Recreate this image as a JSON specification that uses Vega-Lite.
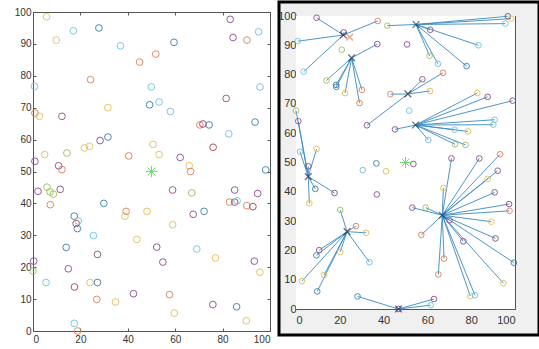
{
  "$schema": "https://vega.github.io/schema/vega-lite/v6.json",
  "padding": 0,
  "autosize": {"type": "pad"},
  "background": "white",
  "spacing": 4,
  "config": {
    "view": {"stroke": null},
    "axis": {
      "grid": false, "title": null,
      "domainColor": "#555555", "tickColor": "#555555", "domainWidth": 1,
      "labelColor": "#333333", "labelFont": "Liberation Sans", "labelFontSize": 10,
      "tickSize": -3, "labelPadding": 4
    }
  },
  "datasets": {
    "left": [
      {"x":5.75,"y":98.5,"c":"y"},{"x":9.8,"y":91.2,"c":"y"},{"x":17,"y":94.1,"c":"c"},{"x":27.8,"y":95,"c":"b"},
      {"x":36.9,"y":89.4,"c":"c"},{"x":45,"y":84.3,"c":"o"},{"x":51.8,"y":86.8,"c":"o"},{"x":59.5,"y":90.5,"c":"b"},
      {"x":83.2,"y":97.7,"c":"p"},{"x":84.4,"y":92,"c":"p"},{"x":90.3,"y":91.2,"c":"o"},{"x":95.2,"y":93.8,"c":"c"},
      {"x":0.6,"y":76.7,"c":"c"},{"x":24.3,"y":78.8,"c":"o"},{"x":49.9,"y":76.5,"c":"c"},{"x":49.2,"y":70.9,"c":"b"},
      {"x":53.2,"y":71.8,"c":"c"},{"x":58,"y":68.8,"c":"c"},{"x":31.6,"y":70,"c":"y"},{"x":0.8,"y":68.3,"c":"o"},
      {"x":2.7,"y":67.3,"c":"y"},{"x":12.2,"y":67.3,"c":"p"},{"x":81.5,"y":72.9,"c":"p"},{"x":95.8,"y":76.5,"c":"c"},
      {"x":93.7,"y":65.5,"c":"b"},{"x":70.4,"y":64.6,"c":"o"},{"x":71.7,"y":64.9,"c":"r"},{"x":74.3,"y":64.6,"c":"b"},
      {"x":82.6,"y":61.8,"c":"c"},{"x":76,"y":57.6,"c":"r"},{"x":31.6,"y":60.8,"c":"b"},{"x":28.3,"y":59.7,"c":"p"},
      {"x":23.8,"y":57.9,"c":"y"},{"x":21.7,"y":57.4,"c":"y"},{"x":14.3,"y":55.8,"c":"g"},{"x":4.9,"y":55.3,"c":"y"},
      {"x":0.8,"y":53.2,"c":"p"},{"x":10.8,"y":51.8,"c":"p"},{"x":12.2,"y":50.6,"c":"o"},{"x":40.4,"y":54.9,"c":"o"},
      {"x":50.6,"y":58.5,"c":"y"},{"x":53.2,"y":55.3,"c":"y"},{"x":62.1,"y":54.4,"c":"p"},{"x":65.9,"y":51.8,"c":"y"},
      {"x":66.5,"y":50,"c":"o"},{"x":98.2,"y":50.5,"c":"b"},{"x":2.1,"y":43.8,"c":"p"},{"x":5.9,"y":45.1,"c":"g"},
      {"x":7.2,"y":43.6,"c":"g"},{"x":8.6,"y":42.9,"c":"g"},{"x":11.5,"y":44.4,"c":"p"},{"x":7.3,"y":39.6,"c":"o"},
      {"x":29.9,"y":40,"c":"b"},{"x":17.4,"y":36,"c":"b"},{"x":18.2,"y":33.7,"c":"r"},{"x":19.1,"y":34.5,"c":"c"},
      {"x":18.7,"y":32.1,"c":"b"},{"x":39.3,"y":37.5,"c":"o"},{"x":38.8,"y":36,"c":"y"},{"x":48.1,"y":37.5,"c":"y"},
      {"x":43.8,"y":28.7,"c":"y"},{"x":25.5,"y":29.9,"c":"c"},{"x":14,"y":26.2,"c":"b"},{"x":27.2,"y":24,"c":"p"},
      {"x":0.3,"y":21.9,"c":"p"},{"x":0,"y":18.8,"c":"g"},{"x":14.9,"y":19.5,"c":"p"},{"x":5.5,"y":15.2,"c":"c"},
      {"x":17.5,"y":13.8,"c":"r"},{"x":24.1,"y":15.2,"c":"y"},{"x":27.2,"y":15.2,"c":"b"},{"x":26.9,"y":9.9,"c":"o"},
      {"x":34.8,"y":9.1,"c":"y"},{"x":42.4,"y":11.7,"c":"p"},{"x":52.2,"y":26.3,"c":"p"},{"x":54.8,"y":21.6,"c":"p"},
      {"x":57.6,"y":11.4,"c":"o"},{"x":59.6,"y":5.6,"c":"y"},{"x":58.9,"y":44.2,"c":"p"},{"x":58.9,"y":33.3,"c":"y"},
      {"x":67,"y":43.3,"c":"g"},{"x":67.6,"y":36.6,"c":"p"},{"x":72.2,"y":37.5,"c":"b"},{"x":69.1,"y":25.7,"c":"c"},
      {"x":77,"y":22.9,"c":"y"},{"x":75.9,"y":8.3,"c":"p"},{"x":85.9,"y":7.6,"c":"b"},{"x":90,"y":3.2,"c":"y"},
      {"x":82.9,"y":40.4,"c":"o"},{"x":85.1,"y":40.4,"c":"p"},{"x":86.1,"y":40.8,"c":"c"},{"x":85.1,"y":44.2,"c":"p"},
      {"x":90.2,"y":39.3,"c":"o"},{"x":92.8,"y":39,"c":"r"},{"x":94.8,"y":43.1,"c":"p"},{"x":93.4,"y":21.9,"c":"p"},
      {"x":95.7,"y":18.4,"c":"y"},{"x":17.4,"y":2.4,"c":"c"},{"x":18.8,"y":0,"c":"o"}
    ],
    "right": [
      {"x":9.4,"y":99.4,"c":"p","cx":21.6,"cy":93.5},{"x":0.8,"y":91.4,"c":"c","cx":21.6,"cy":93.5},
      {"x":3.5,"y":81,"c":"c","cx":21.6,"cy":93.5},{"x":37.3,"y":98.3,"c":"o","cx":21.6,"cy":93.5},
      {"x":21.8,"y":94.4,"c":"p","cx":21.6,"cy":93.5},
      {"x":37.1,"y":90.4,"c":"p","cx":25.4,"cy":85.7},{"x":13.9,"y":78,"c":"g","cx":25.4,"cy":85.7},
      {"x":18.3,"y":76.5,"c":"b","cx":25.4,"cy":85.7},{"x":18.4,"y":75.8,"c":"b","cx":25.4,"cy":85.7},
      {"x":22.4,"y":73.7,"c":"y","cx":25.4,"cy":85.7},{"x":30.1,"y":74.8,"c":"o","cx":25.4,"cy":85.7},
      {"x":29,"y":70.3,"c":"o","cx":25.4,"cy":85.7},
      {"x":41.7,"y":96.7,"c":"g","cx":54.8,"cy":97.1},{"x":61.3,"y":95.3,"c":"p","cx":54.8,"cy":97.1},
      {"x":61,"y":86.4,"c":"g","cx":54.8,"cy":97.1},{"x":64.8,"y":83.7,"c":"c","cx":54.8,"cy":97.1},
      {"x":77.9,"y":82.9,"c":"b","cx":54.8,"cy":97.1},{"x":83.3,"y":90,"c":"c","cx":54.8,"cy":97.1},
      {"x":96.7,"y":99.9,"c":"p","cx":54.8,"cy":97.1},{"x":98.2,"y":99.1,"c":"y","cx":54.8,"cy":97.1},
      {"x":95.6,"y":97.4,"c":"c","cx":54.8,"cy":97.1},
      {"x":43.1,"y":73.3,"c":"o","cx":51.1,"cy":73.4},{"x":57.7,"y":78.4,"c":"p","cx":51.1,"cy":73.4},
      {"x":67.1,"y":80.6,"c":"o","cx":51.1,"cy":73.4},{"x":61.2,"y":74.4,"c":"y","cx":51.1,"cy":73.4},
      {"x":32.4,"y":62.7,"c":"p","cx":51.1,"cy":73.4},
      {"x":45.2,"y":61.3,"c":"p","cx":54.6,"cy":62.8},{"x":72.4,"y":61.2,"c":"c","cx":54.6,"cy":62.8},
      {"x":60.4,"y":57.7,"c":"c","cx":54.6,"cy":62.8},{"x":82.8,"y":73.7,"c":"y","cx":54.6,"cy":62.8},
      {"x":87.5,"y":72.4,"c":"p","cx":54.6,"cy":62.8},{"x":98.9,"y":71.1,"c":"p","cx":54.6,"cy":62.8},
      {"x":90.7,"y":64.6,"c":"c","cx":54.6,"cy":62.8},{"x":90.1,"y":62.9,"c":"c","cx":54.6,"cy":62.8},
      {"x":78.5,"y":60.6,"c":"y","cx":54.6,"cy":62.8},{"x":72.6,"y":56.2,"c":"g","cx":54.6,"cy":62.8},
      {"x":77.4,"y":56,"c":"g","cx":54.6,"cy":62.8},
      {"x":1.05,"y":64.1,"c":"p","cx":5.6,"cy":45.2},{"x":0,"y":67.7,"c":"g","cx":5.6,"cy":45.2},
      {"x":1.8,"y":53.7,"c":"c","cx":5.6,"cy":45.2},{"x":9.4,"y":54.6,"c":"y","cx":5.6,"cy":45.2},
      {"x":5.6,"y":48.7,"c":"p","cx":5.6,"cy":45.2},{"x":8.8,"y":41,"c":"b","cx":5.6,"cy":45.2},
      {"x":17.6,"y":39.6,"c":"p","cx":5.6,"cy":45.2},{"x":6.1,"y":36.1,"c":"y","cx":5.6,"cy":45.2},
      {"x":20.2,"y":33.8,"c":"g","cx":23.3,"cy":26.4},{"x":27.4,"y":28.3,"c":"o","cx":23.3,"cy":26.4},
      {"x":32,"y":26,"c":"y","cx":23.3,"cy":26.4},{"x":10.6,"y":20.1,"c":"p","cx":23.3,"cy":26.4},
      {"x":9.3,"y":18.3,"c":"b","cx":23.3,"cy":26.4},{"x":20.2,"y":19.5,"c":"y","cx":23.3,"cy":26.4},
      {"x":33.5,"y":16,"c":"c","cx":23.3,"cy":26.4},{"x":2.7,"y":9.5,"c":"y","cx":23.3,"cy":26.4},
      {"x":12.8,"y":11.6,"c":"y","cx":23.3,"cy":26.4},{"x":9.7,"y":6,"c":"b","cx":23.3,"cy":26.4},
      {"x":28.1,"y":4.3,"c":"b","cx":46.8,"cy":0},{"x":63,"y":3.4,"c":"p","cx":46.8,"cy":0},
      {"x":61.5,"y":1.3,"c":"c","cx":46.8,"cy":0},{"x":46.8,"y":0,"c":"p","cx":46.8,"cy":0},
      {"x":53.1,"y":34.6,"c":"p","cx":66.8,"cy":32},{"x":59.2,"y":34.6,"c":"g","cx":66.8,"cy":32},
      {"x":57.2,"y":25.3,"c":"o","cx":66.8,"cy":32},{"x":67.6,"y":17.2,"c":"o","cx":66.8,"cy":32},
      {"x":65,"y":11.8,"c":"o","cx":66.8,"cy":32},{"x":70.1,"y":30.3,"c":"p","cx":66.8,"cy":32},
      {"x":76.4,"y":23.1,"c":"p","cx":66.8,"cy":32},{"x":89.2,"y":29.8,"c":"y","cx":66.8,"cy":32},
      {"x":91.1,"y":24.1,"c":"p","cx":66.8,"cy":32},{"x":99.5,"y":15.8,"c":"b","cx":66.8,"cy":32},
      {"x":94.7,"y":8.8,"c":"y","cx":66.8,"cy":32},{"x":79.6,"y":4.4,"c":"y","cx":66.8,"cy":32},
      {"x":81.7,"y":4.7,"c":"c","cx":66.8,"cy":32},{"x":97.3,"y":35.8,"c":"p","cx":66.8,"cy":32},
      {"x":97.5,"y":33.5,"c":"o","cx":66.8,"cy":32},{"x":71,"y":51.4,"c":"p","cx":66.8,"cy":32},
      {"x":83.7,"y":51.4,"c":"p","cx":66.8,"cy":32},{"x":93.2,"y":52.8,"c":"o","cx":66.8,"cy":32},
      {"x":92.1,"y":47.2,"c":"p","cx":66.8,"cy":32},{"x":87.5,"y":44.4,"c":"y","cx":66.8,"cy":32},
      {"x":90.7,"y":39.8,"c":"p","cx":66.8,"cy":32},{"x":67.3,"y":41.3,"c":"y","cx":66.8,"cy":32},
      {"x":30.5,"y":47.4,"c":"c"},{"x":36.7,"y":49.7,"c":"b"},{"x":41.1,"y":47,"c":"y"},{"x":36.9,"y":39.1,"c":"p"},
      {"x":53.6,"y":49.5,"c":"p"},{"x":50.7,"y":90.3,"c":"p"},{"x":20.9,"y":88.5,"c":"g"},{"x":51.7,"y":67.7,"c":"c"}
    ],
    "cent": [
      {"x":21.6,"y":93.5,"c":"k"},{"x":24.5,"y":92.8,"c":"o"},{"x":25.4,"y":85.7,"c":"k"},{"x":54.8,"y":97.1,"c":"k"},
      {"x":51.1,"y":73.4,"c":"k"},{"x":54.6,"y":62.8,"c":"k"},{"x":5.6,"y":45.2,"c":"k"},{"x":23.3,"y":26.4,"c":"k"},
      {"x":46.8,"y":0,"c":"k"},{"x":66.8,"y":32,"c":"k"}
    ],
    "bs": [{"x":50,"y":50}]
  },
  "hconcat": [
    {
      "width": 271, "height": 349,
      "layer": [
        {
          "data": {"name": "left"},
          "mark": {"type": "point", "shape": "circle", "filled": false, "size": 45, "strokeWidth": 1, "opacity": 0.9},
          "encoding": {
            "x": {"field": "x", "type": "quantitative",
                  "scale": {"domain": [0, 100], "range": [33, 270], "nice": false, "zero": false},
                  "axis": {"orient": "bottom", "offset": -20, "labelPadding": 6, "values": [0, 20, 40, 60, 80, 100]}},
            "y": {"field": "y", "type": "quantitative",
                  "scale": {"domain": [0, 100], "range": [329, 10], "nice": false, "zero": false},
                  "axis": {"orient": "left", "offset": -33, "labelPadding": 5, "values": [0, 10, 20, 30, 40, 50, 60, 70, 80, 90, 100]}},
            "color": {"field": "c", "type": "nominal", "legend": null,
                      "scale": {"domain": ["p", "y", "o", "c", "b", "g", "r", "k"],
                                "range": ["#8a4d8a", "#e3bf55", "#d9825a", "#6cc3e3", "#3a7fa8", "#9cc05a", "#a84050", "#1f3550"]}}
          }
        },
        {
          "data": {"name": "bs"},
          "mark": {"type": "point", "shape": "M-1,0L1,0M0,-1L0,1M-0.7,-0.7L0.7,0.7M-0.7,0.7L0.7,-0.7", "filled": false, "size": 130, "strokeWidth": 1, "color": "#33cc33"},
          "encoding": {
            "x": {"field": "x", "type": "quantitative", "axis": {"orient": "top", "offset": -10, "labels": false, "values": [0, 20, 40, 60, 80, 100]}},
            "y": {"field": "y", "type": "quantitative", "axis": {"orient": "right", "offset": -1, "labels": false, "values": [0, 10, 20, 30, 40, 50, 60, 70, 80, 90, 100]}}
          }
        }
      ],
      "resolve": {"axis": {"x": "independent", "y": "independent"}}
    },
    {
      "width": 260, "height": 333,
      "view": {"stroke": "black", "strokeWidth": 3, "fill": "#f0f0f0"},
      "layer": [
        {
          "data": {"values": [{}]},
          "mark": {"type": "rect", "color": "white"},
          "encoding": {
            "x": {"datum": 0, "type": "quantitative",
                  "scale": {"domain": [0, 100], "range": [17, 236], "nice": false, "zero": false},
                  "axis": {"orient": "bottom", "offset": -26, "labelPadding": 8, "values": [0, 20, 40, 60, 80, 100], "labelFontSize": 11}},
            "x2": {"datum": 100},
            "y": {"datum": 0, "type": "quantitative",
                  "scale": {"domain": [0, 100], "range": [307, 14], "nice": false, "zero": false},
                  "axis": {"orient": "left", "offset": -17, "values": [0, 10, 20, 30, 40, 50, 60, 70, 80, 90, 100], "labelPadding": 3, "labelFontSize": 11}},
            "y2": {"datum": 100}
          }
        },
        {
          "data": {"name": "right"},
          "transform": [{"filter": "isValid(datum.cx)"}],
          "mark": {"type": "rule", "color": "#3b8bc2", "strokeWidth": 1, "opacity": 0.9},
          "encoding": {
            "x": {"field": "cx", "type": "quantitative", "axis": null},
            "y": {"field": "cy", "type": "quantitative", "axis": null},
            "x2": {"field": "x"},
            "y2": {"field": "y"}
          }
        },
        {
          "data": {"name": "right"},
          "mark": {"type": "point", "shape": "circle", "filled": false, "size": 32, "strokeWidth": 1, "opacity": 0.9},
          "encoding": {
            "x": {"field": "x", "type": "quantitative", "axis": null},
            "y": {"field": "y", "type": "quantitative", "axis": null},
            "color": {"field": "c", "type": "nominal", "legend": null,
                      "scale": {"domain": ["p", "y", "o", "c", "b", "g", "r", "k"],
                                "range": ["#8a4d8a", "#e3bf55", "#d9825a", "#6cc3e3", "#3a7fa8", "#9cc05a", "#a84050", "#1f3550"]}}
          }
        },
        {
          "data": {"name": "cent"},
          "mark": {"type": "point", "shape": "M-1,-1L1,1M-1,1L1,-1", "filled": false, "size": 45, "strokeWidth": 1.3},
          "encoding": {
            "x": {"field": "x", "type": "quantitative", "axis": null},
            "y": {"field": "y", "type": "quantitative", "axis": null},
            "color": {"field": "c", "type": "nominal", "legend": null}
          }
        },
        {
          "data": {"name": "bs"},
          "mark": {"type": "point", "shape": "M-1,0L1,0M0,-1L0,1M-0.7,-0.7L0.7,0.7M-0.7,0.7L0.7,-0.7", "filled": false, "size": 120, "strokeWidth": 1, "color": "#33cc33"},
          "encoding": {
            "x": {"field": "x", "type": "quantitative", "axis": {"orient": "top", "offset": -14, "labels": false, "values": [0, 20, 40, 60, 80, 100]}},
            "y": {"field": "y", "type": "quantitative", "axis": {"orient": "right", "offset": -24, "labels": false, "values": [0, 10, 20, 30, 40, 50, 60, 70, 80, 90, 100]}}
          }
        }
      ],
      "resolve": {"axis": {"x": "independent", "y": "independent"}}
    }
  ]
}
